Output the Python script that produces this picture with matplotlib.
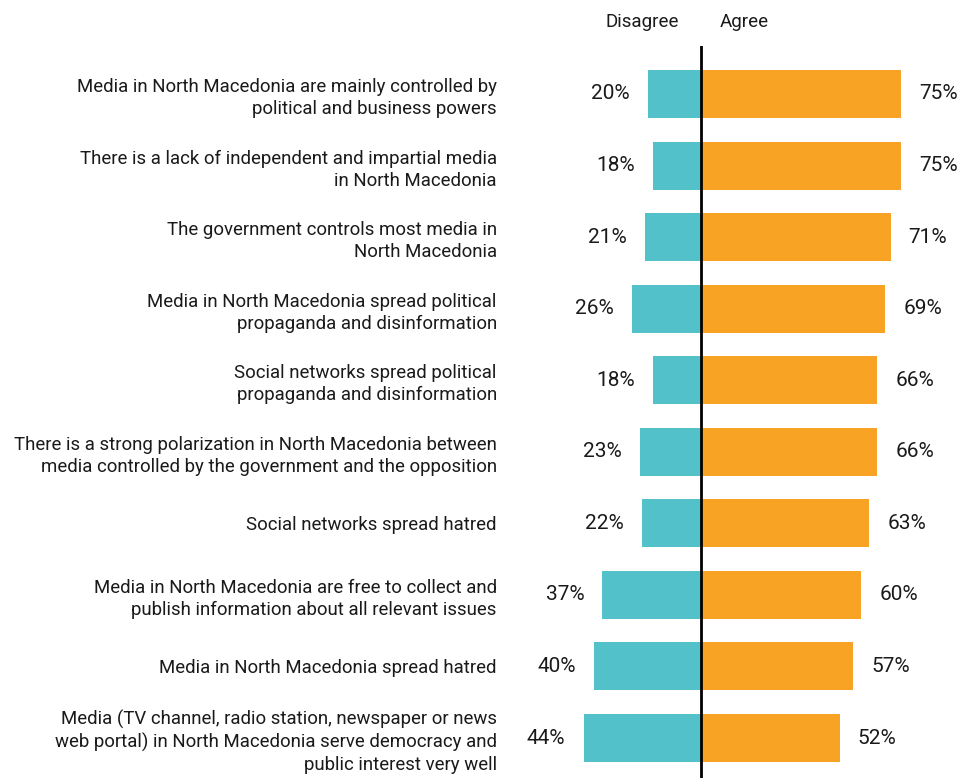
import matplotlib.pyplot as plt
import numpy as np

plt.rcParams['font.family'] = ['Roboto', 'DejaVu Sans']

statements = [
    'Media in North Macedonia are mainly controlled by\npolitical and business powers',
    'There is a lack of independent and impartial media\nin North Macedonia',
    'The government controls most media in\nNorth Macedonia',
    'Media in North Macedonia spread political\npropaganda and disinformation',
    'Social networks spread political\npropaganda and disinformation',
    'There is a strong polarization in North Macedonia between\nmedia controlled by the government and the opposition',
    'Social networks spread hatred',
    'Media in North Macedonia are free to collect and\npublish information about all relevant issues',
    'Media in North Macedonia spread hatred',
    'Media (TV channel, radio station, newspaper or news\nweb portal) in North Macedonia serve democracy and\npublic interest very well',
]
disagree = [20, 18, 21, 26, 18, 23, 22, 37, 40, 44]
agree = [75, 75, 71, 69, 66, 66, 63, 60, 57, 52]

teal = '#53c1c9'
orange = '#f8a324'
ink = '#1a1a1a'

W, H = 959, 778
fig = plt.figure(figsize=(W / 100, H / 100), dpi=100)
# axes from x=510px to right edge, y=46px to bottom
ax = fig.add_axes([510 / W, 0, 1 - 510 / W, 1 - 46 / H])

px = 2.67  # pixels per percent
ax.set_xlim((510 - 701) / px, (W - 701) / px)
ax.set_ylim(9 + 40 / 71.56, -48 / 71.56)

y = np.arange(len(statements))
ax.barh(y, [-d for d in disagree], height=0.67, color=teal)
ax.barh(y, agree, height=0.67, color=orange)
ax.axvline(0, color='black', lw=2)

for i in y:
    ax.annotate(f'{disagree[i]}%', (-disagree[i], i), xytext=(-13, 0),
                textcoords='offset points', ha='right', va='center',
                fontsize=15, color=ink)
    ax.annotate(f'{agree[i]}%', (agree[i], i), xytext=(13, 0),
                textcoords='offset points', ha='left', va='center',
                fontsize=15, color=ink)

ax.set_yticks(y)
ax.set_yticklabels(statements, fontsize=13.4, color=ink, linespacing=1.28)
ax.tick_params(axis='y', length=0, pad=9.5)
ax.set_xticks([])
for s in ax.spines.values():
    s.set_visible(False)

hy = -48 / 71.56 - 24 / 71.56
ax.text((642 - 701) / px, hy, 'Disagree', ha='center', va='center',
        fontsize=13.5, color=ink, clip_on=False)
ax.text((744 - 701) / px, hy, 'Agree', ha='center', va='center',
        fontsize=13.5, color=ink, clip_on=False)

fig.savefig('out.png', dpi=100)
